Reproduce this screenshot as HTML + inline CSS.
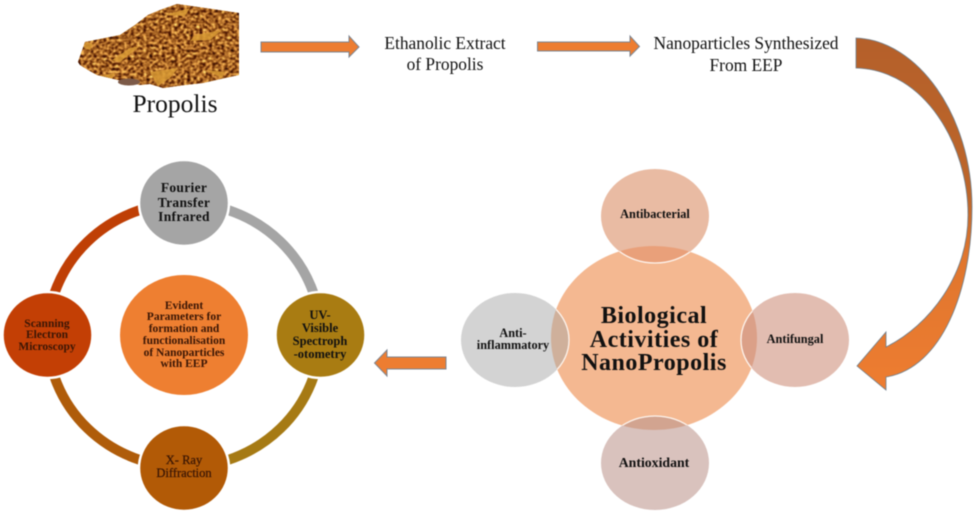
<!DOCTYPE html>
<html><head><meta charset="utf-8">
<style>
html,body{margin:0;padding:0;background:#fff;width:975px;height:513px;overflow:hidden}
svg{display:block;filter:blur(.45px)}
text{font-family:"Liberation Serif",serif;text-anchor:middle;fill:#111}
.b{font-weight:bold}
</style></head><body>
<svg width="975" height="513" viewBox="0 0 975 513" xmlns="http://www.w3.org/2000/svg">
<defs>
<linearGradient id="g" x1="0" y1="0" x2="0" y2="1"><stop offset="0" stop-color="#b5602a"/><stop offset=".45" stop-color="#bd662a"/><stop offset=".62" stop-color="#e0762e"/><stop offset="1" stop-color="#ee7d31"/></linearGradient>
<clipPath id="big"><ellipse cx="654" cy="338" rx="103" ry="92"/></clipPath>
<clipPath id="pile"><path d="M78 62L85 42L100 39L120 35L135 25L148 15L160 10L177 4L205 8L239 13V75L225 78L203 83L185 85L163 88L150 84L140 85L118 80L97 75L88 70L80 65Z"/></clipPath>
<filter id="tex" x="0" y="0" width="100%" height="100%" color-interpolation-filters="sRGB">
<feTurbulence type="fractalNoise" baseFrequency=".32 .38" numOctaves="2" seed="11"/>
<feColorMatrix type="matrix" values="1.900 0 0 0 -.3  1.700 0 0 0 -.46  1 0 0 0 -.36  0 0 0 0 1"/>
<feGaussianBlur stdDeviation=".6"/>
</filter>
</defs>

<!-- propolis pile -->
<g clip-path="url(#pile)">
<rect x="70" y="0" width="175" height="95" fill="#a9641f"/>
<rect x="70" y="0" width="175" height="95" filter="url(#tex)"/>
<g fill="#d99a35" opacity=".85">
<path d="M195 35L222 30L210 40L190 41Z"/><path d="M130 48L140 46L120 62L112 60Z"/><path d="M150 72L178 68L170 78L158 86Z"/>
<path d="M85 42L93 44L90 50L84 48Z"/><path d="M100 76L115 73L112 79Z"/><path d="M165 15L190 8L185 16Z"/><path d="M205 70L225 72L222 78Z"/>
</g>
</g>
<ellipse cx="129" cy="82" rx="11" ry="3.500" fill="#7c5a48"/>

<text x="175" y="112" font-size="25.500">Propolis</text>

<!-- straight arrows -->
<g fill="#ed7d31" stroke="#7d8590" stroke-width="1">
<path d="M261 42H349V36L359 47L349 57V52H261Z"/>
<path d="M537.500 42H630V36L639.500 46.500L630 56V51H537.500Z"/>
<path d="M446 357H387V350L374.500 363L387 376V369H446Z"/>
</g>

<text x="445" y="49" font-size="17.400">Ethanolic Extract</text>
<text x="445" y="70" font-size="17.400">of Propolis</text>
<text x="746" y="49" font-size="17.400">Nanoparticles Synthesized</text>
<text x="746" y="71" font-size="17.400">From EEP</text>

<!-- curved arrow -->
<path d="M856 38C917 40 972 115 972 207C972 290 942 368 886 377V390L857 366L886 332V347C930 325 968 275 968 215C968 145 925 70 856 68Z" fill="url(#g)" stroke="#6f7f8c" stroke-width=".8"/>

<!-- biological activities -->
<ellipse cx="654" cy="338" rx="103" ry="92" fill="#f4b891"/>
<ellipse cx="655" cy="216" rx="54" ry="47" fill="#e9bba3"/>
<ellipse cx="515" cy="340" rx="54" ry="47" fill="#d3d3d3"/>
<ellipse cx="795" cy="340" rx="54" ry="47" fill="#e2bdb1"/>
<ellipse cx="655" cy="463" rx="54" ry="47" fill="#d9c2bd"/>
<g clip-path="url(#big)">
<ellipse cx="655" cy="216" rx="54" ry="47" fill="#e9a07a"/>
<ellipse cx="515" cy="340" rx="54" ry="47" fill="#cfb09b"/>
<ellipse cx="795" cy="340" rx="54" ry="47" fill="#dba088"/>
<ellipse cx="655" cy="463" rx="54" ry="47" fill="#d2a490"/>
<g fill="none" stroke="#fdf3ec" stroke-width="1.300">
<ellipse cx="655" cy="216" rx="54" ry="47"/>
<ellipse cx="515" cy="340" rx="54" ry="47"/>
<ellipse cx="795" cy="340" rx="54" ry="47"/>
<ellipse cx="655" cy="463" rx="54" ry="47"/>
</g>
</g>
<text class="b" x="654" y="323" font-size="24" letter-spacing=".5">Biological</text>
<text class="b" x="654" y="347" font-size="24" letter-spacing=".5">Activities of</text>
<text class="b" x="654" y="370" font-size="24" letter-spacing=".5">NanoPropolis</text>
<text class="b" x="655" y="218" font-size="12.300">Antibacterial</text>
<text class="b" x="795" y="343" font-size="12.300">Antifungal</text>
<text class="b" x="513" y="337" font-size="12.300">Anti-</text>
<text class="b" x="513" y="349" font-size="12.300">inflammatory</text>
<text class="b" x="654" y="467" font-size="13.800">Antioxidant</text>

<!-- cycle ring -->
<g fill="none" stroke-width="10">
<path d="M184 203A136.500 132 0 0 1 320.500 335" stroke="#a5a5a5"/>
<path d="M320.500 335A136.500 132 0 0 1 184 467" stroke="#a67a14"/>
<path d="M184 467A136.500 132 0 0 1 47.500 335" stroke="#af5c0a"/>
<path d="M47.500 335A136.500 132 0 0 1 184 203" stroke="#bf3f05"/>
</g>
<g stroke="#fff" stroke-width="2.500">
<ellipse cx="184" cy="203" rx="45" ry="43" fill="#a5a5a5"/>
<ellipse cx="320.500" cy="335" rx="45" ry="43" fill="#a97c12"/>
<ellipse cx="184" cy="468" rx="45" ry="43" fill="#b25a06"/>
<ellipse cx="47.500" cy="335" rx="45" ry="43" fill="#c33f05"/>
</g>
<ellipse cx="184" cy="335" rx="64" ry="60" fill="#ee7f31"/>

<g font-weight="bold">
<text x="184" y="192" font-size="13.500" letter-spacing=".3">Fourier</text>
<text x="184" y="207" font-size="13.500" letter-spacing=".3">Transfer</text>
<text x="184" y="221" font-size="13.500" letter-spacing=".3">Infrared</text>
<g style="fill:#3a1605">
<text x="184" y="309" font-size="11.500" style="fill:#3a1605">Evident</text>
<text x="184" y="320" font-size="11.500" style="fill:#3a1605">Parameters for</text>
<text x="184" y="332" font-size="11.500" style="fill:#3a1605">formation and</text>
<text x="184" y="344" font-size="11.500" style="fill:#3a1605">functionalisation</text>
<text x="184" y="356" font-size="11.500" style="fill:#3a1605">of Nanoparticles</text>
<text x="184" y="367" font-size="11.500" style="fill:#3a1605">with EEP</text>
<text x="47" y="327" font-size="11.500" style="fill:#3a1605">Scanning</text>
<text x="47" y="338" font-size="11.500" style="fill:#3a1605">Electron</text>
<text x="47" y="350" font-size="11.500" style="fill:#3a1605">Microscopy</text>
</g>
<text x="320" y="319" font-size="12.500">UV-</text>
<text x="320" y="332" font-size="12.500">Visible</text>
<text x="320" y="345" font-size="12.500">Spectroph</text>
<text x="320" y="358" font-size="12.500">-otometry</text>
<text x="184" y="464" font-size="12.500" font-weight="normal" stroke="#3a1605" stroke-width=".25" style="fill:#3a1605">X- Ray</text>
<text x="184" y="477" font-size="12.500" font-weight="normal" stroke="#3a1605" stroke-width=".25" style="fill:#3a1605">Diffraction</text>
</g>
</svg>
</body></html>
